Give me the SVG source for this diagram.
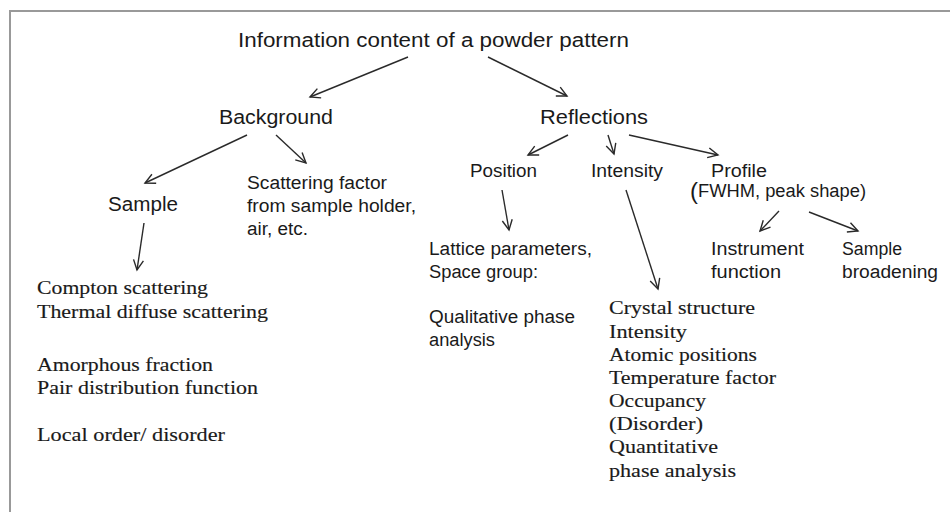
<svg xmlns="http://www.w3.org/2000/svg" width="950" height="512" viewBox="0 0 950 512">
<defs>
<marker id="arr" markerUnits="userSpaceOnUse" markerWidth="14" markerHeight="14" refX="11" refY="6" orient="auto">
<path d="M1,1 L11,6 L1,11" fill="none" stroke="#2a2a2a" stroke-width="1.4"/>
</marker>
<style>
.s{font-family:"Liberation Sans",Arial,sans-serif;fill:#1a1a1a}
.r{font-family:"Liberation Serif","Times New Roman",serif;fill:#1a1a1a;font-size:19px;stroke:#1a1a1a;stroke-width:0.15}
.t1{font-size:20px}
.t2{font-size:18px}
.c{fill:none;stroke:#2a2a2a;stroke-width:1.4;marker-end:url(#arr)}
.frame{stroke:#999;stroke-width:2;fill:none}
</style>
</defs>
<rect width="950" height="512" fill="#fff"/>
<path class="frame" d="M10,512 L10,11 L950,11"/>
<g id="title"><text class="s t1" x="238" y="47" textLength="391" lengthAdjust="spacingAndGlyphs">Information content of a powder pattern</text></g>
<g id="background"><text class="s t1" x="219" y="124" textLength="114" lengthAdjust="spacingAndGlyphs">Background</text></g>
<g id="reflections"><text class="s t1" x="540" y="124" textLength="108" lengthAdjust="spacingAndGlyphs">Reflections</text></g>
<g id="sample"><text class="s t1" x="108" y="211" textLength="70" lengthAdjust="spacingAndGlyphs">Sample</text></g>
<g id="scattering-factor">
<text class="s t2" x="247" y="189" textLength="140" lengthAdjust="spacingAndGlyphs">Scattering factor</text>
<text class="s t2" x="247" y="212" textLength="169" lengthAdjust="spacingAndGlyphs">from sample holder,</text>
<text class="s t2" x="247" y="235" textLength="61" lengthAdjust="spacingAndGlyphs">air, etc.</text>
</g>
<g id="position"><text class="s t2" x="470" y="177" textLength="67" lengthAdjust="spacingAndGlyphs">Position</text></g>
<g id="intensity"><text class="s t2" x="591" y="177" textLength="72" lengthAdjust="spacingAndGlyphs">Intensity</text></g>
<g id="profile">
<text class="s t2" x="711" y="177" textLength="56" lengthAdjust="spacingAndGlyphs">Profile</text>
<text class="s t2" x="690" y="197"><tspan font-size="24" dy="2">(</tspan><tspan dy="-2" textLength="168" lengthAdjust="spacingAndGlyphs">FWHM, peak shape)</tspan></text>
</g>
<g id="lattice">
<text class="s t2" x="429" y="255" textLength="163" lengthAdjust="spacingAndGlyphs">Lattice parameters,</text>
<text class="s t2" x="429" y="278" textLength="109" lengthAdjust="spacingAndGlyphs">Space group:</text>
<text class="s t2" x="429" y="323" textLength="146" lengthAdjust="spacingAndGlyphs">Qualitative phase</text>
<text class="s t2" x="429" y="346" textLength="66" lengthAdjust="spacingAndGlyphs">analysis</text>
</g>
<g id="instrument">
<text class="s t2" x="711" y="255" textLength="93" lengthAdjust="spacingAndGlyphs">Instrument</text>
<text class="s t2" x="711" y="278" textLength="70" lengthAdjust="spacingAndGlyphs">function</text>
</g>
<g id="sample-broadening">
<text class="s t2" x="842" y="255" textLength="60" lengthAdjust="spacingAndGlyphs">Sample</text>
<text class="s t2" x="842" y="278" textLength="96" lengthAdjust="spacingAndGlyphs">broadening</text>
</g>
<g id="sample-effects">
<text class="r" x="37" y="294" textLength="171" lengthAdjust="spacingAndGlyphs">Compton scattering</text>
<text class="r" x="37" y="318" textLength="231" lengthAdjust="spacingAndGlyphs">Thermal diffuse scattering</text>
<text class="r" x="37" y="371" textLength="176" lengthAdjust="spacingAndGlyphs">Amorphous fraction</text>
<text class="r" x="37" y="394" textLength="221" lengthAdjust="spacingAndGlyphs">Pair distribution function</text>
<text class="r" x="37" y="441" textLength="188" lengthAdjust="spacingAndGlyphs">Local order/ disorder</text>
</g>
<g id="crystal-structure">
<text class="r" x="609" y="314" textLength="146" lengthAdjust="spacingAndGlyphs">Crystal structure</text>
<text class="r" x="609" y="338" textLength="78" lengthAdjust="spacingAndGlyphs">Intensity</text>
<text class="r" x="609" y="361" textLength="148" lengthAdjust="spacingAndGlyphs">Atomic positions</text>
<text class="r" x="609" y="384" textLength="167" lengthAdjust="spacingAndGlyphs">Temperature factor</text>
<text class="r" x="609" y="407" textLength="97" lengthAdjust="spacingAndGlyphs">Occupancy</text>
<text class="r" x="609" y="430" textLength="94" lengthAdjust="spacingAndGlyphs">(Disorder)</text>
<text class="r" x="609" y="453" textLength="109" lengthAdjust="spacingAndGlyphs">Quantitative</text>
<text class="r" x="609" y="477" textLength="127" lengthAdjust="spacingAndGlyphs">phase analysis</text>
</g>
<g id="connectors">
<line class="c" x1="408" y1="57" x2="310" y2="97"/>
<line class="c" x1="488" y1="57" x2="567" y2="96"/>
<line class="c" x1="247" y1="135" x2="145" y2="183"/>
<line class="c" x1="276" y1="135" x2="306" y2="163"/>
<line class="c" x1="144" y1="223" x2="137" y2="270"/>
<line class="c" x1="568" y1="135" x2="528" y2="155"/>
<line class="c" x1="608" y1="135" x2="614" y2="154"/>
<line class="c" x1="629" y1="135" x2="718" y2="155"/>
<line class="c" x1="502" y1="190" x2="509" y2="230"/>
<line class="c" x1="626" y1="190" x2="658" y2="289"/>
<line class="c" x1="779" y1="211" x2="760" y2="231"/>
<line class="c" x1="809" y1="212" x2="858" y2="231"/>
</g>
</svg>
